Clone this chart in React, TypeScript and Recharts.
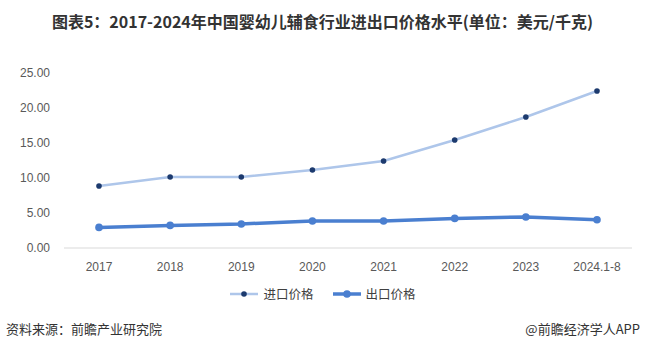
import React from "react";
import { LineChart, Line, XAxis, YAxis } from "recharts";

const categories = ["2017", "2018", "2019", "2020", "2021", "2022", "2023", "2024.1-8"];
const importPrice = [8.86, 10.14, 10.14, 11.14, 12.43, 15.43, 18.71, 22.43];
const exportPrice = [2.94, 3.23, 3.43, 3.86, 3.86, 4.23, 4.43, 4.04];
const yTicks = [0, 5, 10, 15, 20, 25];

const data = categories.map((c, i) => ({ name: c, imp: importPrice[i], exp: exportPrice[i] }));

const FONT = "'Liberation Sans', 'Noto Sans CJK SC', sans-serif";
const CJK = "'Noto Sans CJK SC', 'Liberation Sans', sans-serif";

const IMP_LINE = "#aec6ea";
const IMP_DOT = "#1c3a6e";
const EXP = "#4a7fd0";

const LegendContent = () => (
  <div style={{ display: "flex", justifyContent: "center", alignItems: "center", fontFamily: CJK, fontSize: 12.5, color: "#404040" }}>
    <svg width={30} height={10} style={{ marginRight: 4 }}>
      <line x1={1} y1={5} x2={29} y2={5} stroke={IMP_LINE} strokeWidth={2.5} />
      <circle cx={15} cy={5} r={2.8} fill={IMP_DOT} />
    </svg>
    <span style={{ marginRight: 18 }}>进口价格</span>
    <svg width={30} height={10} style={{ marginRight: 4 }}>
      <line x1={1} y1={5} x2={29} y2={5} stroke={EXP} strokeWidth={3.5} />
      <circle cx={15} cy={5} r={3.8} fill={EXP} />
    </svg>
    <span>出口价格</span>
  </div>
);

export default function App() {
  return (
    <div style={{ position: "absolute", left: 0, top: 0, width: 645, height: 353, background: "#fff", overflow: "hidden" }}>
      <div style={{ position: "absolute", top: 9, left: 0, width: 645, textAlign: "center", fontFamily: CJK, fontWeight: 700, fontSize: 16, color: "#333" }}>
        图表5：2017-2024年中国婴幼儿辅食行业进出口价格水平(单位：美元/千克)
      </div>
      <div style={{ position: "absolute", left: 0, top: 0 }}>
        <LineChart width={645} height={353} data={data} margin={{ top: 73, right: 13, bottom: 75, left: 0 }}>
          <XAxis
            dataKey="name"
            height={30}
            axisLine={{ stroke: "#d9d9d9" }}
            tickLine={false}
            tick={{ fontSize: 12, fill: "#595959", fontFamily: FONT }}
            tickMargin={8}
            interval={0}
            padding={{ left: 35, right: 35 }}
          />
          <YAxis
            width={64}
            domain={[0, 25]}
            ticks={yTicks}
            axisLine={false}
            tickLine={false}
            tickMargin={8}
            tick={{ fontSize: 12, fill: "#595959", fontFamily: FONT }}
            tickFormatter={(v: number) => v.toFixed(2)}
          />
          <Line
            type="linear"
            dataKey="imp"
            name="进口价格"
            stroke={IMP_LINE}
            strokeWidth={2.5}
            dot={{ r: 2.8, fill: IMP_DOT, stroke: IMP_DOT, strokeWidth: 0 }}
            isAnimationActive={false}
          />
          <Line
            type="linear"
            dataKey="exp"
            name="出口价格"
            stroke={EXP}
            strokeWidth={3.5}
            dot={{ r: 3.8, fill: EXP, stroke: EXP, strokeWidth: 0 }}
            isAnimationActive={false}
          />
        </LineChart>
      </div>
      <div style={{ position: "absolute", top: 284, left: 0, width: 645 }}>
        <LegendContent />
      </div>
      <div style={{ position: "absolute", left: 6, top: 319, fontFamily: CJK, fontSize: 13, color: "#333" }}>
        资料来源：前瞻产业研究院
      </div>
      <div style={{ position: "absolute", right: 5, top: 319, fontFamily: CJK, fontSize: 13, color: "#333" }}>
        @前瞻经济学人APP
      </div>
    </div>
  );
}
